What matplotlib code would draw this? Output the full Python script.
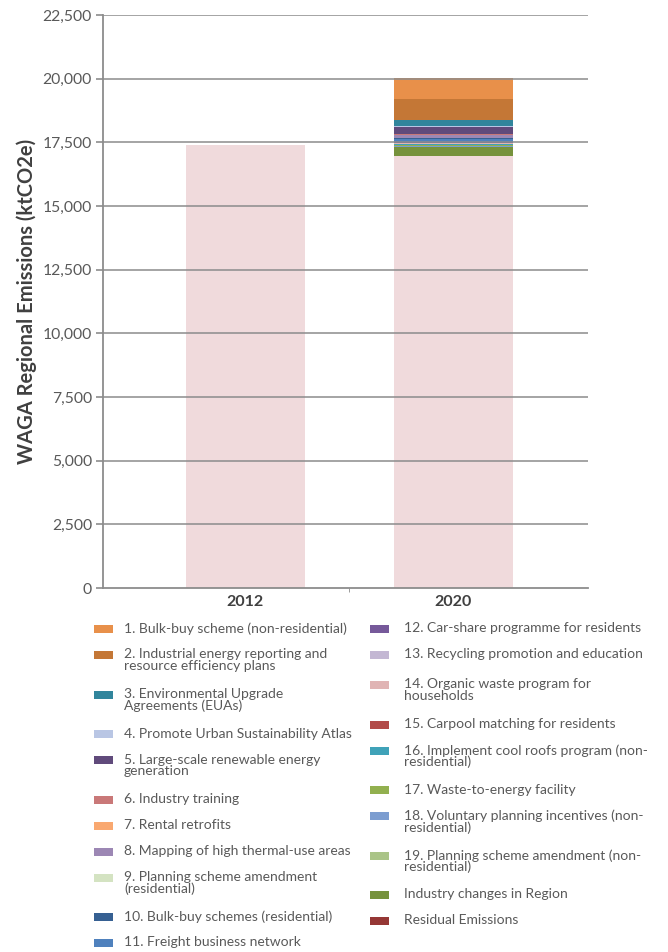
import numpy as np
import matplotlib
matplotlib.use('Agg')
import matplotlib.pyplot as plt
from matplotlib.patches import Rectangle

plt.rcParams['font.family'] = ['Lato', 'DejaVu Sans']

# data
years = ['2012', '2020']
base_values = [17400, 16960]
base_color = '#f0dadc'

# actions stacked on the 2020 bar, from the bottom up
stack_labels = ['Industry changes in Region',
                '19. Planning scheme amendment (non-\nresidential)',
                '18. Voluntary planning incentives (non-\nresidential)',
                '17. Waste-to-energy facility',
                '16. Implement cool roofs program (non-\nresidential)',
                '15. Carpool matching for residents',
                '14. Organic waste program for\nhouseholds',
                '13. Recycling promotion and education',
                '12. Car-share programme for residents',
                '11. Freight business network',
                '10. Bulk-buy schemes (residential)',
                '9. Planning scheme amendment\n(residential)',
                '8. Mapping of high thermal-use areas',
                '7. Rental retrofits',
                '6. Industry training',
                '5. Large-scale renewable energy\ngeneration',
                '4. Promote Urban Sustainability Atlas',
                '3. Environmental Upgrade\nAgreements (EUAs)',
                '2. Industrial energy reporting and\nresource efficiency plans',
                '1. Bulk-buy scheme (non-residential)',
                'Residual Emissions']
stack_values = [340, 30, 40, 40, 20, 10, 20, 20, 30, 110, 40, 20, 90, 20, 40,
                275, 30, 236, 825, 812, 8]
stack_colors = ['#76923c', '#aac487', '#7c9dd0', '#92b04f', '#3fa2b8', '#b24a48',
                '#e0b4b4', '#c3b7d3', '#76599a', '#4f81bd', '#366092', '#d4e3c2',
                '#9c87b4', '#f9a870', '#c97878', '#604a7b', '#b9c6e4', '#31859c',
                '#c47736', '#e8904a', '#953735']

fig = plt.figure(figsize=(6.68, 9.52), dpi=100)
ax = fig.add_axes([103/668, 1 - 588/952, 485/668, 573/952])

x = np.arange(len(years))
w = 0.572
ax.bar(x, base_values, width=w, color=base_color, zorder=1)

bottom = base_values[1]
colors = {}
for lab, val, col in zip(stack_labels, stack_values, stack_colors):
    ax.bar(x[1], val, bottom=bottom, width=w, color=col, zorder=1)
    colors[lab] = col
    bottom += val

ax.set_xlim(-0.685, 1.647)
ax.set_ylim(0, 22500)
yt = np.arange(0, 22501, 2500)
ax.set_yticks(yt)
ax.set_yticklabels(['{:,}'.format(v) for v in yt])
for v in yt[1:]:
    ax.axhline(v, color='#8c8c8c', lw=1.3, alpha=0.85, zorder=3)

ax.set_xticks([0.5], minor=True)
ax.set_xticks(x)
ax.set_xticklabels(years, fontsize=11.5, fontweight='bold', color='#404040')
ax.tick_params(axis='x', which='major', length=0, pad=5)
ax.tick_params(axis='x', which='minor', length=3, color='#8c8c8c')
ax.tick_params(axis='y', length=5, width=1.2, color='#8c8c8c', labelsize=11.3,
               labelcolor='#595959', pad=3)
for s in ['top', 'right']:
    ax.spines[s].set_visible(False)
for s in ['left', 'bottom']:
    ax.spines[s].set_color('#8c8c8c')
    ax.spines[s].set_linewidth(1.3)

ax.set_ylabel('WAGA Regional Emissions (ktCO2e)', fontsize=14.5, fontweight='bold',
              color='#404040', labelpad=4)

# legend, two columns drawn by hand
left_nums = ['1.', '2.', '3.', '4.', '5.', '6.', '7.', '8.', '9.', '10.', '11.']
right_nums = ['12.', '13.', '14.', '15.', '16.', '17.', '18.', '19.']
left_col = [l for p in left_nums for l in stack_labels if l.startswith(p + ' ')]
right_col = [l for p in right_nums for l in stack_labels if l.startswith(p + ' ')]
right_col += ['Industry changes in Region', 'Residual Emissions']

H = 952.0
for col_labels, px, tx in [(left_col, 94, 124), (right_col, 370, 404)]:
    y = 629.0
    for lab in col_labels:
        fig.add_artist(Rectangle((px/668, 1 - (y + 4)/H), 19/668, 8/H,
                                 transform=fig.transFigure,
                                 color=colors[lab], lw=0))
        fig.text(tx/668, 1 - (y - 6.5)/H, lab, fontsize=10, color='#595959',
                 va='top', ha='left', linespacing=0.93)
        nlines = lab.count('\n') + 1
        y += 26 + 13.5 * (nlines - 1)
        if lab.startswith('13.'):
            y += 4

fig.savefig('out.png', dpi=100)
